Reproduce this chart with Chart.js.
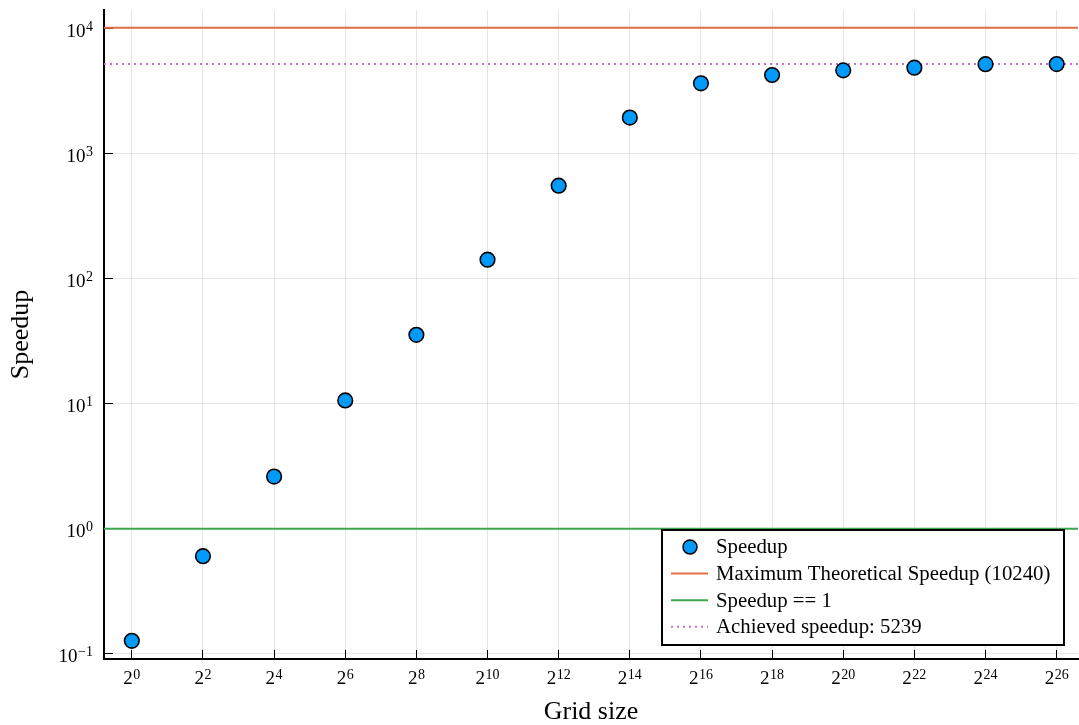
<!DOCTYPE html>
<html>
<head>
<meta charset="utf-8">
<script src="https://cdn.jsdelivr.net/npm/chart.js@4.4.1/dist/chart.umd.min.js"></script>
<style>
  html, body { margin: 0; padding: 0; background: #fff; }
  #wrap { width: 1079px; height: 725px; }
</style>
</head>
<body>
<div id="wrap"><canvas id="chart"></canvas></div>
<script>
// data
const exponents = [0, 2, 4, 6, 8, 10, 12, 14, 16, 18, 20, 22, 24, 26];
const speedup = [0.127, 0.604, 2.62, 10.65, 35.7, 142.5, 557, 1954, 3673, 4285, 4665, 4902, 5230, 5239];
const maxTheoretical = 10240;
const speedupOne = 1;
const achieved = 5239;
const yTickExps = [-1, 0, 1, 2, 3, 4];

// axis bounds
const xRange = [2 ** -0.782, 2 ** 26.6];
const yRange = [0.0908, 14190];

const gridSizes = exponents.map(e => 2 ** e);
const FONT = "'Liberation Serif', 'DejaVu Serif', serif";

Chart.defaults.font.family = FONT;
Chart.defaults.color = '#000';

const hline = (label, y, color, dash) => ({
    label: label,
    type: 'line',
    data: [{x: xRange[0], y: y}, {x: xRange[1], y: y}],
    borderColor: color,
    backgroundColor: color,
    borderWidth: 2,
    borderDash: dash || [],
    pointRadius: 0,
    showLine: true,
    order: 1
});

// draws "base^exp" with a raised exponent
function drawPow(ctx, base, exp, x, baseline, align, raise) {
    ctx.font = '19px ' + FONT;
    const wb = ctx.measureText(base).width;
    ctx.font = '14px ' + FONT;
    const we = ctx.measureText(exp).width;
    const total = wb + we + 0.5;
    let x0 = align === 'right' ? x - total : x - total / 2;
    ctx.font = '19px ' + FONT;
    ctx.fillText(base, x0, baseline);
    ctx.font = '14px ' + FONT;
    ctx.fillText(exp, x0 + wb + 0.5, baseline - raise);
}

// tick labels with exponents, placed through the chart's scales
const powLabels = {
    id: 'powLabels',
    afterDraw(chart) {
        const {ctx, chartArea} = chart;
        const xs = chart.scales.x, ys = chart.scales.y;
        ctx.save();
        ctx.fillStyle = '#000';
        ctx.textBaseline = 'alphabetic';
        ctx.textAlign = 'left';
        gridSizes.forEach((v, i) => {
            drawPow(ctx, '2', String(exponents[i]), xs.getPixelForValue(v), chartArea.bottom + 25, 'center', 5.5);
        });
        yTickExps.forEach(e => {
            const exp = e < 0 ? '\u2212' + (-e) : String(e);
            drawPow(ctx, '10', exp, chartArea.left - 11, ys.getPixelForValue(10 ** e) + 8.5, 'right', 6.5);
        });
        ctx.restore();
    }
};

// legend box inside the plot, bottom right
const boxLegend = {
    id: 'boxLegend',
    afterDraw(chart) {
        const {ctx, chartArea} = chart;
        const w = 402, h = 115;
        const x0 = chartArea.right - 14 - w;
        const y0 = chartArea.bottom - 14 - h;
        ctx.save();
        ctx.fillStyle = '#fff';
        ctx.fillRect(x0, y0, w, h);
        ctx.strokeStyle = '#000';
        ctx.lineWidth = 2;
        ctx.strokeRect(x0, y0, w, h);
        ctx.font = '20.8px ' + FONT;
        ctx.textBaseline = 'middle';
        ctx.textAlign = 'left';
        chart.data.datasets.forEach((ds, i) => {
            const y = y0 + 17 + i * 26.6;
            if (ds.type === 'line') {
                ctx.beginPath();
                ctx.setLineDash(ds.borderDash);
                ctx.strokeStyle = ds.borderColor;
                ctx.lineWidth = 2;
                ctx.moveTo(x0 + 9, y);
                ctx.lineTo(x0 + 46, y);
                ctx.stroke();
                ctx.setLineDash([]);
            } else {
                ctx.beginPath();
                ctx.arc(x0 + 28, y, 7, 0, Math.PI * 2);
                ctx.fillStyle = ds.backgroundColor;
                ctx.fill();
                ctx.strokeStyle = '#000';
                ctx.lineWidth = 1.5;
                ctx.stroke();
            }
            ctx.fillStyle = '#000';
            ctx.fillText(ds.label, x0 + 54, y + 1);
        });
        ctx.restore();
    }
};

new Chart(document.getElementById('chart'), {
    type: 'scatter',
    data: {
        datasets: [
            {
                label: 'Speedup',
                data: gridSizes.map((x, i) => ({x: x, y: speedup[i]})),
                backgroundColor: '#009AFA',
                borderColor: '#000',
                borderWidth: 1.6,
                pointRadius: 7.3,
                order: 0
            },
            hline('Maximum Theoretical Speedup (10240)', maxTheoretical, '#E36F47'),
            hline('Speedup == 1', speedupOne, '#3EA44E'),
            hline('Achieved speedup: ' + achieved, achieved, '#C271D2', [2, 4])
        ]
    },
    options: {
        responsive: true,
        maintainAspectRatio: false,
        animation: false,
        layout: { autoPadding: false, padding: { top: 10, right: 1, left: 0, bottom: 0 } },
        plugins: { legend: { display: false }, tooltip: { enabled: false } },
        scales: {
            x: {
                type: 'logarithmic',
                position: 'bottom',
                min: xRange[0],
                max: xRange[1],
                afterBuildTicks: s => { s.ticks = gridSizes.map(v => ({value: v})); },
                afterFit: s => { s.height = 66; s.paddingLeft = 0; s.paddingRight = 0; },
                ticks: { display: false },
                grid: { color: 'rgba(0,0,0,0.1)', tickColor: '#000', tickLength: -9, lineWidth: 1 },
                border: { color: '#000', width: 2 },
                title: { display: true, text: 'Grid size', font: { size: 26, lineHeight: 1 }, padding: { top: 0, bottom: 0 } }
            },
            y: {
                type: 'logarithmic',
                position: 'left',
                min: yRange[0],
                max: yRange[1],
                afterBuildTicks: s => { s.ticks = yTickExps.map(e => ({value: 10 ** e})); },
                afterFit: s => { s.width = 104; s.paddingTop = 0; s.paddingBottom = 0; },
                ticks: { display: false },
                grid: { color: 'rgba(0,0,0,0.1)', tickColor: '#000', tickLength: -9, lineWidth: 1 },
                border: { color: '#000', width: 2 },
                title: { display: true, text: 'Speedup', font: { size: 26, lineHeight: 1 }, padding: { top: 8, bottom: 0 } }
            }
        }
    },
    plugins: [powLabels, boxLegend]
});
</script>
</body>
</html>
